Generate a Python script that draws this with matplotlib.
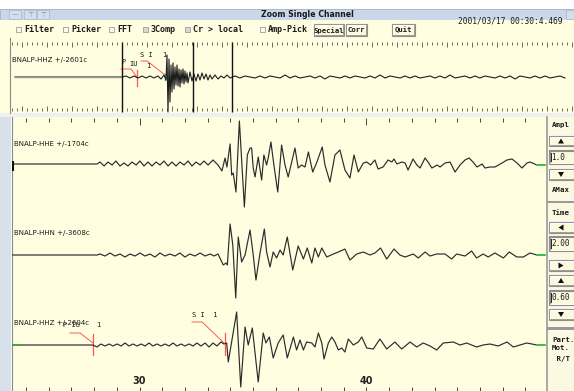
import numpy as np
import matplotlib.pyplot as plt
from matplotlib.patches import Rectangle, Polygon

# ---------------- data ----------------
# overview trace BNALP-HHZ: time (s) and amplitude (counts)
ov_t = [3.55, 24.95, 25.75, 26.55, 27.35, 28.15, 28.95, 29.75, 30.55, 31.35,
        32.15, 32.75, 33.35, 33.75, 33.95, 34.15, 34.35, 34.55, 34.75, 34.95,
        35.15, 35.35, 35.55, 35.75, 35.95, 36.15, 36.35, 36.55, 36.75, 36.95,
        37.15, 37.35, 37.55, 37.75, 37.95, 38.15, 38.55, 38.95, 39.35, 39.75,
        40.15, 40.55, 40.95, 41.35, 41.75, 42.15, 42.55, 42.95, 43.55, 44.15,
        44.75, 45.35, 45.95, 46.55,
        47.55, 48.55, 49.55, 50.55, 51.55, 52.55, 53.55, 54.55, 55.55, 56.55,
        57.55, 58.55, 59.55, 60.55, 61.55, 62.55, 63.55, 64.55, 65.55, 66.55,
        67.55, 68.55, 69.55, 70.55, 71.55, 72.55, 73.55, 74.55, 75.55, 76.55,
        77.55, 78.55, 79.55, 80.55, 81.55, 82.55, 83.55, 84.55, 85.55, 86.55,
        87.55, 88.55, 89.55, 90.55, 91.55, 92.55, 93.55, 94.55, 95.55, 96.55,
        97.55, 98.55, 99.55, 100.55, 101.55, 102.55, 103.55, 104.55, 105.55, 106.55,
        107.55, 108.55, 109.55, 110.55, 111.55, 112.55, 113.55]
ov_amp = [0, 0, 74, -74, 74, -74, 74, -74, 74, -74,
          74, -149, 149, -223, 1635, -2601, 1338, -1858, 892, -1115,
          1040, -892, 743, -594, 892, -669, 594, -743, 520, -446,
          594, -520, 446, -372, 297, -446, 372, -297, 223, -297,
          223, -223, 297, -149, 223, -223, 149, -149, 149, -149,
          74, -74, 149, -74,
          74, -74, 74, 0, -74, 74, -74, 74, 0, -74,
          149, -74, 74, -74, 0, 74, -74, 74, -149, 74,
          0, -74, 74, -74, 74, 0, -74, 74, -74, 149,
          -74, 74, 0, -74, 74, -74, 74, -74, 0, 74,
          -74, 74, -74, 149, -74, 0, 74, -74, 74, -74,
          74, 0, -74, 74, -74, 74, -149, 74, 0, -74,
          74, -74, 74, -74, 0, 74, -74]
ov_window = [24.95, 39.15, 46.95]

hhe_t = [24.38, 28.13, 28.26, 28.44, 28.61, 28.79, 28.96, 29.14, 29.32, 29.49, 29.67, 29.85,
         30.02, 30.20, 30.37, 30.55, 30.73, 30.90, 31.08, 31.26, 31.43, 31.61, 31.78, 31.96,
         32.14, 32.31, 32.49, 32.67, 32.84, 33.02,
         33.24, 33.46, 33.63, 33.77, 33.85, 33.99, 34.06, 34.13, 34.25, 34.40, 34.62, 34.75,
         34.87, 34.94, 35.01, 35.09, 35.23,
         35.38, 35.48, 35.60, 35.67, 35.79, 35.92, 36.09, 36.26, 36.41, 36.55, 36.85, 36.99,
         37.14, 37.29, 37.44, 37.63, 37.80,
         38.05, 38.17, 38.39, 38.61, 38.83, 39.05, 39.27, 39.45, 39.64, 39.86, 40.01, 40.18,
         40.37, 40.51, 40.73, 40.95, 41.12, 41.21, 41.34,
         41.56, 41.70, 41.83, 42.05, 42.22, 42.36, 42.58, 42.71, 42.88, 43.11, 43.24, 43.46,
         43.68, 43.90, 44.12, 44.34, 44.52, 44.69, 44.87,
         45.09, 45.22, 45.44, 45.66, 45.97, 46.19, 46.41, 46.63, 46.85, 47.07, 47.20, 47.51, 47.86]
hhe_amp = [0, 0, 79, -79, 79, -40, 119, -79, 40, -79, 79, -40,
           119, -79, 79, -79, 79, -40, 119, -79, 79, -79, 79, -40,
           119, -79, 79, -40, 119, -40,
           159, -40, -277, 238, -119, 793, -436, -357, -1110, 1704, -1704, 357,
           634, 634, -159, -515, 277,
           -634, 357, -40, 238, 872, -40, -1110, 753, -40, -515, 634, -159,
           -40, -119, 476, -317, 40,
           674, -40, -713, 357, 555, -238, -555, 357, -317, 40, 79, -40,
           159, -198, -119, 159, 79, 198, 0,
           79, 40, -238, 198, -40, -159, 238, 79, -159, -40, -119, 40,
           79, -317, -40, 159, 238, 79, -119,
           0, -159, -119, -119, 40, 159, 198, 40, -159, 40, 79, -40, -40]

hhn_t = [24.38, 28.13, 28.26, 28.48, 28.70, 28.92, 29.14, 29.36, 29.58, 29.80,
         30.02, 30.24, 30.46, 30.68, 30.90, 31.12, 31.34, 31.56, 31.78, 32.00,
         32.22, 32.44, 32.67, 32.89, 33.11, 33.28, 33.46,
         33.69, 33.81, 33.87, 33.99, 34.11, 34.24, 34.35, 34.50, 34.65, 34.87,
         35.01, 35.13, 35.31, 35.50, 35.60, 35.75, 35.89, 36.04, 36.19, 36.33,
         36.51, 36.75, 36.99, 37.22, 37.39, 37.59, 37.73, 37.88, 38.03, 38.25,
         38.54, 38.76, 39.05, 39.27, 39.57, 39.86, 40.15, 40.37, 40.62, 40.89,
         41.21, 41.47, 41.70, 42.06, 42.28, 42.58, 42.80, 43.09, 43.46, 43.75,
         43.97, 44.34, 44.63, 44.85, 45.14, 45.36, 45.66, 46.03, 46.29, 46.62,
         46.91, 47.20, 47.51, 47.86]
hhn_amp = [0, 0, 84, -84, 168, -84, 84, -168, 84, -84,
           168, -84, 84, -168, 168, -84, 84, -84, 168, -168,
           84, -84, 168, -84, 84, -84, 84,
           -839, -671, -839, 2601, 839, -3608, 1510, -587, 0, 2098,
           0, -2098, 168, 2181, 252, -1007, 252, -252, 420, 0,
           1510, -1259, 755, -336, 587, -671, 587, -168, 587, -168,
           84, 252, 503, -420, 84, 252, 0, 168, 587, -336,
           503, 0, -168, 84, -252, 252, -84, 84, 84, -336,
           84, -84, 336, -252, 84, -168, 168, -252, 252, -168,
           -168, 168, 0, 0]

hhz_t = [24.38, 27.95, 28.13, 28.30, 28.48, 28.66, 28.83, 29.01, 29.19, 29.36,
         29.54, 29.71, 29.89, 30.07, 30.24, 30.42, 30.59, 30.77, 30.95, 31.12,
         31.30, 31.48, 31.65, 31.83, 32.00, 32.18, 32.36, 32.53, 32.71, 32.89,
         33.06, 33.24, 33.41, 33.59, 33.72,
         33.84, 33.91, 34.28, 34.46, 34.65, 34.79, 34.97, 35.23, 35.45, 35.57,
         35.72, 35.89, 36.11, 36.33, 36.51, 36.78, 36.92, 37.07, 37.22, 37.36,
         37.59, 37.73, 37.88, 38.03, 38.13, 38.32, 38.47, 38.61, 38.76, 38.91,
         39.05, 39.20, 39.42, 39.64, 39.79, 40.01, 40.30, 40.59, 40.89, 41.25,
         41.55, 41.92, 42.21, 42.50, 42.80, 43.09, 43.38, 43.82, 44.12, 44.41,
         44.85, 45.14, 45.44, 45.80, 46.19, 46.47, 46.76, 47.06, 47.51, 47.86]
hhz_amp = [0, 0, -124, 62, -62, 62, -62, 62, -62, 124,
           -62, 62, -62, 62, -62, 124, -62, 62, -62, 62,
           -62, 124, -62, 62, -62, 62, -62, 124, -62, 124,
           -124, 124, -62, 186, 62,
           124, -1054, 2046, -2604, 1116, 0, 1054, -2294, 744, 124,
           496, -806, 124, 620, -806, 496, -310, 310, -310, 186,
           124, -124, 744, 124, -868, 124, 496, 186, -310, -186,
           -434, 372, 0, 186, 496, -186, -248, 372, -248, 186,
           -248, 186, -124, 124, -62, -310, 124, 186, 0, 124,
           -124, 0, 62, -62, 186, -124, 0, 124, 0, 0]

p_time, s_time = 27.95, 33.77
axis_labels = [30, 40]

# ---------------- layout ----------------
W, H = 574, 391
CREAM = '#fffee1'
INK = '#2b2b2b'
RED = '#ff5555'
MONO = 'DejaVu Sans Mono'
SANS = 'DejaVu Sans'
PX_PER_S = 22.7     # main panel scale
X30 = 139.5         # pixel column of t = 30 s
OV_PX_PER_S = 5.0   # overview scale
OV_XP = 137.0       # pixel column of the P pick in the overview

fig = plt.figure(figsize=(W / 100, H / 100), dpi=100)
fig.patch.set_facecolor('white')
ui = fig.add_axes([0, 0, 1, 1])
ui.set_xlim(0, W)
ui.set_ylim(H, 0)
ui.axis('off')


def rect(x0, y0, x1, y1, fc, ec='none', lw=0.8, z=1):
    ui.add_patch(Rectangle((x0, y0), x1 - x0, y1 - y0, facecolor=fc,
                           edgecolor=ec, linewidth=lw, zorder=z))


def button(x0, y0, x1, y1, sunken=False):
    rect(x0, y0, x1, y1, '#fcf9dd', '#8e8e8e', 0.8, 2)
    light, dark = ('#8e8e8e', 'white') if sunken else ('white', '#8e8e8e')
    ui.plot([x0 + 1, x0 + 1, x1 - 1], [y1 - 1, y0 + 1, y0 + 1], color=light, lw=0.8, zorder=3)
    ui.plot([x0 + 1, x1 - 1, x1 - 1], [y1 - 1, y1 - 1, y0 + 1], color=dark, lw=0.6, zorder=3)


def px_rect(x0, y0, x1, y1):
    return [x0 / W, 1 - y1 / H, (x1 - x0) / W, (y1 - y0) / H]


def main_x(t):
    return X30 + (t - 30) * PX_PER_S


def ov_x(t):
    return OV_XP + (t - p_time) * OV_PX_PER_S


# window background, title bar, toolbar
rect(0, 9, W, 20, '#c9d7e8', '#9fb0c4', 0.6)
ui.text(307, 14.5, 'Zoom Single Channel', ha='center', va='center',
        fontsize=5.6, fontweight='bold', family=SANS, color='#1a1a1a', zorder=4)
for x0, glyph in [(9, '—'), (24, '⊤'), (37, '⊤')]:
    rect(x0, 10, x0 + 12, 19, '#d3dfec', '#a8b6c8', 0.5, 2)
    ui.text(x0 + 6, 14.5, glyph, ha='center', va='center', fontsize=5, color='#8090a8', zorder=4)
rect(566, 10, 574, 19, '#d3dfec', '#a8b6c8', 0.5, 2)
rect(0, 20, W, 38, CREAM)

checks = [(16, 'Filter', False), (63, 'Picker', False), (109, 'FFT', False),
          (143, '3Comp', True), (185, 'Cr > local', True), (260, 'Amp-Pick', False)]
for x0, name, grey in checks:
    rect(x0, 27, x0 + 5, 32, '#d9d9d0' if grey else '#fbfbf3', '#9a9a9a', 0.6, 2)
    ui.text(x0 + 8, 29.8, name, ha='left', va='center', fontsize=6, fontweight='bold',
            family=MONO, color='#1a1a1a', zorder=4)
for x0, x1, name in [(314, 344, 'Special'), (346, 367, 'Corr'), (392, 415, 'Quit')]:
    button(x0, 24, x1, 36)
    ui.text((x0 + x1) / 2, 30.2, name, ha='center', va='center', fontsize=5.2,
            fontweight='bold', family=MONO, color='#1a1a1a', zorder=4)
ui.text(458, 21.5, '2001/03/17 00:30:4.469', ha='left', va='center', fontsize=5.7,
        family=MONO, color='#1a1a1a', zorder=4)

# overview panel
rect(0, 38, W, 113, CREAM)
ui.plot([10, 10], [38, 113], color='#8a8a8a', lw=0.8, zorder=2)
rect(0, 113, W, 117, '#eef0f2')
rect(0, 117, 11, H, '#d8e0ea')
ui.plot([12, 12], [117, H], color='#8a8a8a', lw=0.8, zorder=2)
rect(12, 117, 546, H, CREAM)
rect(546, 117, W, H, '#fbf9e2')
ui.plot([546.5, 546.5], [117, H], color='#9a9a9a', lw=1.2, zorder=2)

ov = fig.add_axes(px_rect(10, 38, W, 113))
ov.set_xlim(p_time - (OV_XP - 10) / OV_PX_PER_S, p_time + (W - OV_XP) / OV_PX_PER_S)
ov.set_ylim(75, 0)
ov.axis('off')
ov_base, ov_peak = 39, 35
a = np.array(ov_amp)
ov.plot(ov_t, ov_base - a / np.abs(a).max() * ov_peak, color='#1e1e1e', lw=0.8, zorder=3)
ov.plot(ov_t[:2], [ov_base, ov_base], color='#9a9a9a', lw=1.0, zorder=3.1)
secs = np.arange(np.ceil(ov.get_xlim()[0]), ov.get_xlim()[1])
tall = (secs % 5 == 0)
ov.vlines(secs, 4, np.where(tall, 9, 7), color='#555555', lw=0.6)
ov.vlines(secs, np.where(tall, 68, 70), 73, color='#555555', lw=0.6)
ov.vlines(ov_window, 4, 74, color='#111111', lw=1.0, zorder=4)
ov.text(0.003, 22, 'BNALP-HHZ +/-%dc' % np.abs(a).max(), transform=ov.get_yaxis_transform(),
        fontsize=5, family=SANS, color='#1a1a1a', va='center')

# overview picks (pixel coordinates)
xp, xs = ov_x(p_time), ov_x(s_time)
ui.plot([xp - 16, xp - 6, xp], [69, 69, 77], color=RED, lw=0.7, zorder=5)
ui.plot([xp, xp], [70, 86], color=RED, lw=0.9, zorder=5)
ui.plot([xs - 25, xs - 19, xs - 1], [61, 61, 75], color=RED, lw=0.7, zorder=5)
ui.plot([xs - 1, xs - 1], [74, 80], color='#20c0c0', lw=1.0, zorder=5)
ui.text(xp - 16, 62, 'P', fontsize=5, family=MONO, va='center', color='#1a1a1a', zorder=3)
ui.text(xp - 8, 63.5, 'IU', fontsize=5, family=MONO, va='center', color='#1a1a1a', zorder=5)
ui.text(xp + 9, 66, '1', fontsize=5, family=MONO, va='center', color='#1a1a1a', zorder=5)
ui.text(xs - 26, 55, 'S I', fontsize=5, family=MONO, va='center', color='#1a1a1a', zorder=5)
ui.text(xs - 4, 55, '1', fontsize=5, family=MONO, va='center', color='#1a1a1a', zorder=5)

# main panel
main = fig.add_axes(px_rect(12, 117, 546, H))
main.set_xlim(30 - (X30 - 12) / PX_PER_S, 30 + (546 - X30) / PX_PER_S)
main.set_ylim(274, 0)
main.axis('off')

secs = np.arange(np.ceil(main.get_xlim()[0]), np.floor(main.get_xlim()[1]) + 1)
main.vlines(secs, 1, np.where(secs % 10 == 0, 8, 5), color='#444444', lw=0.7)
main.vlines(secs, 270, 274, color='#444444', lw=0.7)
for lab in axis_labels:
    main.text(lab, 264, str(lab), ha='center', va='center', fontsize=7,
              fontweight='bold', family=SANS, color='#222222')

traces = [('BNALP-HHE', hhe_t, hhe_amp, 47, 43, 27),
          ('BNALP-HHN', hhn_t, hhn_amp, 138, 43, 116),
          ('BNALP-HHZ', hhz_t, hhz_amp, 228, 42, 206)]
for name, t, amp, base, peak, label_y in traces:
    a = np.array(amp)
    y = base - a / np.abs(a).max() * peak
    main.plot(t, y, color=INK, lw=0.85, zorder=3)
    main.plot(t[-2:], y[-2:], color='#33cc44', lw=1.1, zorder=3.2)
    main.text(24.45, label_y, '%s +/-%dc' % (name, np.abs(a).max()), fontsize=5,
              family=SANS, color='#1a1a1a', va='center')
# start markers
main.plot([24.38, 24.8], [228, 228], color='#33aa44', lw=1.1, zorder=3.3)
main.vlines(24.42, 44, 54, color='#111111', lw=1.5, zorder=4)

# picks on HHZ
xp, xs = main_x(p_time), main_x(s_time)
ui.plot([xp - 23, xp - 13, xp], [333, 333, 343], color=RED, lw=0.7, zorder=5)
ui.plot([xp, xp], [334, 355], color=RED, lw=0.9, zorder=5)
ui.plot([xs - 33, xs - 23, xs - 1], [322, 322, 343], color=RED, lw=0.7, zorder=5)
ui.plot([xs, xs], [333, 355], color=RED, lw=0.9, zorder=5)
ui.text(xp - 30, 325, 'P IU', fontsize=5, family=MONO, va='center', color='#1a1a1a', zorder=5)
ui.text(xp + 3, 325, '1', fontsize=5, family=MONO, va='center', color='#1a1a1a', zorder=5)
ui.text(xs - 33, 315, 'S I  1', fontsize=5, family=MONO, va='center', color='#1a1a1a', zorder=5)


# right control column
def label(y, s):
    ui.text(552, y, s, fontsize=5.3, fontweight='bold', family=MONO, va='center',
            color='#1a1a1a', zorder=4)


def arrow_button(y0, y1, kind):
    button(549, y0, 576, y1)
    cx, cy = 561, (y0 + y1) / 2
    pts = {'up': [(cx - 3, cy + 2.5), (cx + 3, cy + 2.5), (cx, cy - 2.5)],
           'down': [(cx - 3, cy - 2.5), (cx + 3, cy - 2.5), (cx, cy + 2.5)],
           'left': [(cx + 2.5, cy - 3), (cx + 2.5, cy + 3), (cx - 2.5, cy)],
           'right': [(cx - 2.5, cy - 3), (cx - 2.5, cy + 3), (cx + 2.5, cy)]}[kind]
    ui.add_patch(Polygon(pts, closed=True, facecolor='#111111', edgecolor='none', zorder=4))


def entry(y0, y1, s):
    button(549, y0, 576, y1, sunken=True)
    ui.plot([551, 551], [y0 + 3, y1 - 3], color='#222222', lw=0.7, zorder=4)
    ui.text(551.5, (y0 + y1) / 2, s, fontsize=5.5, family=MONO, va='center',
            color='#1a1a1a', zorder=4)


label(125, 'Ampl')
arrow_button(136, 146, 'up')
entry(150, 164, '1.0')
arrow_button(169, 180, 'down')
label(190, 'AMax')
rect(547, 200.5, W, 203, '#9a9a9a', z=2)
label(213, 'Time')
arrow_button(222, 233, 'left')
entry(236, 251, '2.00')
arrow_button(260, 271, 'right')
arrow_button(275, 286, 'up')
entry(290, 305, '0.60')
arrow_button(309, 320, 'down')
rect(547, 327, W, 329.5, '#9a9a9a', z=2)
label(340, 'Part.')
label(348, 'Mot.')
label(359, ' R/T')

fig.savefig('out.png', dpi=100, facecolor=fig.get_facecolor())
